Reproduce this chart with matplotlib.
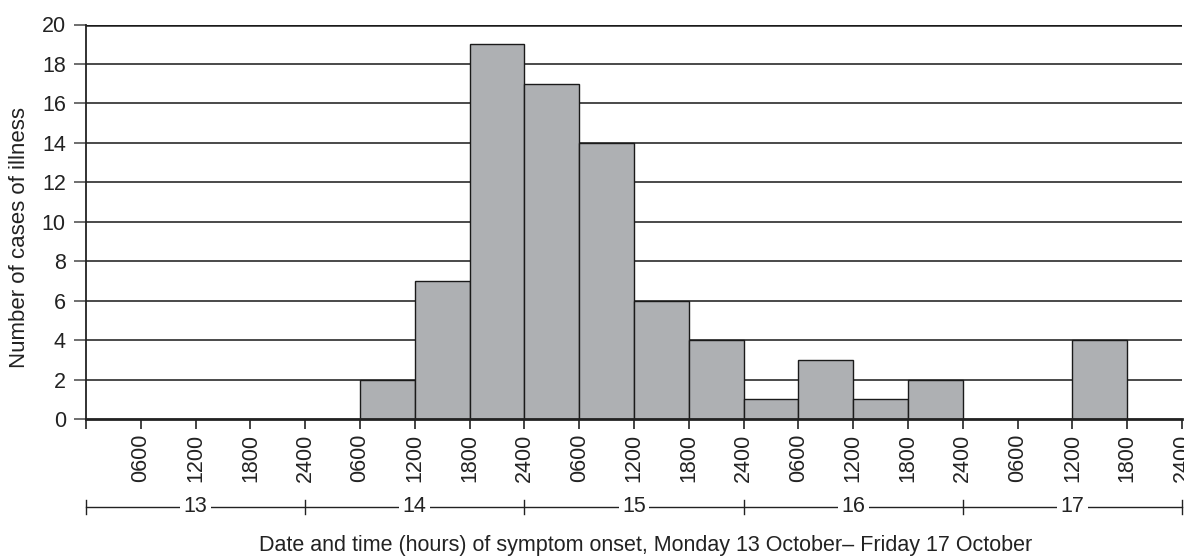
import matplotlib
matplotlib.use("Agg")
import matplotlib.pyplot as plt
import matplotlib.transforms as mtransforms

plt.rcParams['font.family'] = ['Liberation Sans', 'DejaVu Sans']

days = ['13', '14', '15', '16', '17']
hour_labels = ['0600', '1200', '1800', '2400']
counts = [0, 0, 0, 0,
          0, 2, 7, 19,
          17, 14, 6, 4,
          1, 3, 1, 2,
          0, 0, 4, 0]
y_ticks = list(range(0, 21, 2))
xlabel = "Date and time (hours) of symptom onset, Monday 13 October\u2013 Friday 17 October"
ylabel = "Number of cases of illness"

FS = 15.5
TXT = '#222222'

fig = plt.figure(figsize=(11.84, 5.56), dpi=100)
ax = fig.add_axes([86/1184, 1-419/556, 1096/1184, (419-24.5)/556])

n = len(counts)
ax.bar(range(n), counts, width=1.0, align='edge', color='#aeb0b3',
       edgecolor='#1a1a1a', linewidth=1.0, zorder=3)

for y in y_ticks[1:-1]:
    ax.axhline(y, color='#3c3c3c', linewidth=1.3, zorder=1)
ax.axhline(20, color='#1a1a1a', linewidth=1.8, zorder=1)

ax.set_xlim(0, n)
ax.set_ylim(0, 20)
ax.set_yticks(y_ticks)
ax.set_yticklabels([str(v) for v in y_ticks], fontsize=FS, color=TXT)
ax.set_xticks(range(n + 1))
ax.set_xticklabels([''] + hour_labels * len(days), rotation=90, fontsize=FS,
                   color=TXT)
ax.tick_params(axis='x', direction='out', length=7, width=1.2, pad=3.5, color=TXT)
ax.tick_params(axis='y', direction='out', length=8.5, width=1.2, pad=6, color='#555555')

for s in ['top', 'right']:
    ax.spines[s].set_visible(False)
ax.spines['bottom'].set_linewidth(2.0)
ax.spines['bottom'].set_color(TXT)
ax.spines['bottom'].set_zorder(4)
ax.spines['left'].set_linewidth(1.3)
ax.spines['left'].set_color(TXT)

fig.text(20/1184, 1 - 237.5/556, ylabel, rotation=90, ha='center', va='center',
         fontsize=16, color=TXT)

# Day brackets below the hour labels
trans = mtransforms.blended_transform_factory(ax.transData, fig.transFigure)
y_br = 1 - 507/556
tick_h = 7/556
ax.plot([0, n], [y_br, y_br], transform=trans, color=TXT, lw=1.0, clip_on=False)
for k in range(len(days) + 1):
    ax.plot([4*k, 4*k], [y_br - tick_h, y_br + tick_h], transform=trans,
            color=TXT, lw=1.0, clip_on=False)
for k, d in enumerate(days):
    ax.text(4*k + 2, y_br, d, transform=trans, ha='center', va='center',
            fontsize=FS, color=TXT,
            bbox=dict(facecolor='white', edgecolor='none', pad=2.5))

fig.text(646/1184, 1 - 551/556, xlabel, ha='center', va='baseline',
         fontsize=FS, color=TXT)

fig.savefig('out.png', dpi=100)
